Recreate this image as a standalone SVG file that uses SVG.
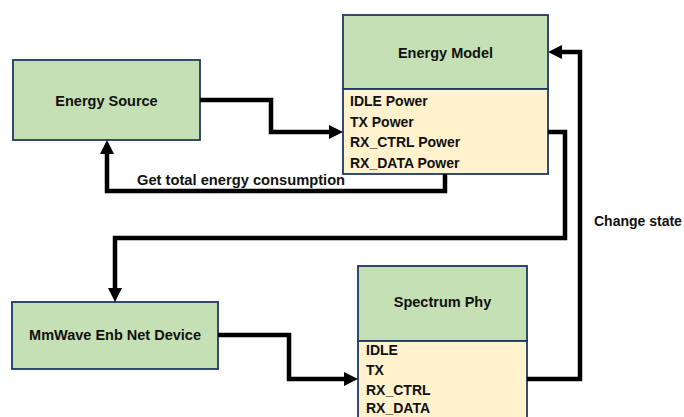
<svg xmlns="http://www.w3.org/2000/svg" width="684" height="417" viewBox="0 0 684 417">
<style>
.title{fill:#C5E0B4;stroke:#203864;stroke-width:1.8}
.list{fill:#FFF2CC;stroke:#203864;stroke-width:1.8}
text{font-family:"Liberation Sans",Arial,sans-serif;font-weight:bold;font-size:14px;fill:#111}
.c{text-anchor:middle;font-size:14.5px}
.conn{fill:none;stroke:#000;stroke-width:4.5;stroke-linejoin:miter}
</style>
<defs>
<marker id="arr" markerUnits="userSpaceOnUse" markerWidth="15" markerHeight="15" refX="0" refY="7" orient="auto" overflow="visible">
<path d="M0,0 L14,7 L0,14 z" fill="#000"/>
</marker>
</defs>
<rect width="684" height="417" fill="#fff"/>
<g id="energy-source">
<rect class="title" x="13" y="60" width="187" height="80"/>
<text class="c" x="106.5" y="106">Energy Source</text>
</g>
<g id="energy-model">
<rect class="title" x="343" y="15" width="205" height="74"/>
<text class="c" x="445.5" y="58">Energy Model</text>
<rect class="list" x="343" y="89" width="205" height="85"/>
<text x="350" y="106">IDLE Power</text>
<text x="350" y="127">TX Power</text>
<text x="350" y="147">RX_CTRL Power</text>
<text x="350" y="168">RX_DATA Power</text>
</g>
<g id="mmwave-enb-net-device">
<rect class="title" x="12" y="302" width="206" height="67"/>
<text class="c" x="115" y="340">MmWave Enb Net Device</text>
</g>
<g id="spectrum-phy">
<rect class="title" x="358" y="266" width="169" height="75"/>
<text class="c" x="442.5" y="307">Spectrum Phy</text>
<rect class="list" x="358" y="341" width="169" height="90"/>
<text x="366" y="355">IDLE</text>
<text x="366" y="375">TX</text>
<text x="366" y="395">RX_CTRL</text>
<text x="366" y="413">RX_DATA</text>
</g>
<g id="connectors">
<path class="conn" d="M200,100 H271 V132 H329" marker-end="url(#arr)"/>
<path class="conn" d="M445,174 V191 H107 V154" marker-end="url(#arr)"/>
<path class="conn" d="M548,132 H565 V238 H115 V288" marker-end="url(#arr)"/>
<path class="conn" d="M218,335 H289 V379 H344" marker-end="url(#arr)"/>
<path class="conn" d="M527,379 H580 V52 H562" marker-end="url(#arr)"/>
<text x="137" y="185" style="font-size:14.7px">Get total energy consumption</text>
<text x="594" y="226">Change state</text>
</g>
</svg>
